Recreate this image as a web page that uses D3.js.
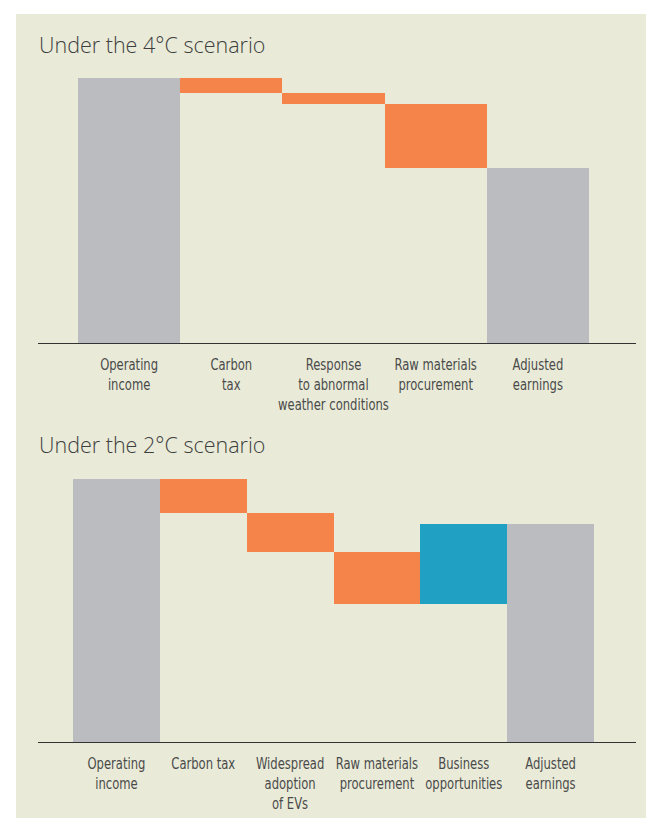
<!DOCTYPE html>
<meta charset="utf-8">
<style>
body { margin: 0; background: #ffffff; }
.title {
  font-family: "Open Sans", "Noto Sans", sans-serif;
  font-weight: 300;
  font-size: 21.5px;
  fill: #3e3e3e;
}
.lbl {
  font-family: "DejaVu Sans Condensed", "DejaVu Sans", sans-serif;
  font-stretch: condensed;
  font-size: 15px;
  fill: #4a4a4a;
}
.axis-line {
  stroke: #333333;
  stroke-width: 1.3px;
  shape-rendering: crispEdges;
}
</style>
<body>
<svg width="646" height="818"></svg>
<script src="https://d3js.org/d3.v7.min.js"></script>
<script>
// 4°C scenario (relative to operating income = 100)
var cats4 = ["Operating\nincome", "Carbon\ntax", "Response\nto abnormal\nweather conditions", "Raw materials\nprocurement", "Adjusted\nearnings"];
var vals4 = [100, -5.7, -4.2, -24, null];

// 2°C scenario
var cats2 = ["Operating\nincome", "Carbon tax", "Widespread\nadoption\nof EVs", "Raw materials\nprocurement", "Business\nopportunities", "Adjusted\nearnings"];
var vals2 = [100, -12.9, -14.8, -19.7, 30.3, null];

var colTotal = "#bbbcc0", colNeg = "#f4844a", colPos = "#20a1c3";

var svg = d3.select("svg");

svg.append("rect")
    .attr("x", 16).attr("y", 14)
    .attr("width", 630).attr("height", 804)
    .attr("fill", "#e9ebd8");

function steps(vals) {
  var run = 0, out = [];
  vals.forEach(function(v, i) {
    if (i === 0) { out.push({y0: 0, y1: v, kind: "total"}); run = v; }
    else if (v === null) { out.push({y0: 0, y1: run, kind: "total"}); }
    else { out.push({y0: run, y1: run + v, kind: v < 0 ? "neg" : "pos"}); run += v; }
  });
  return out;
}

function waterfall(opts) {
  var data = steps(opts.vals);
  var x = d3.scaleBand().domain(d3.range(opts.cats.length)).range([opts.x0, opts.x1]).padding(0);
  var y = d3.scaleLinear().domain([0, 100]).range([opts.base, opts.top]);

  svg.append("text").attr("class", "title")
      .attr("x", 39).attr("y", opts.titleY)
      .text(opts.title);

  svg.append("g").selectAll("rect")
      .data(data)
    .enter().append("rect")
      .attr("x", function(d, i) { return x(i); })
      .attr("width", x.bandwidth())
      .attr("y", function(d) { return y(Math.max(d.y0, d.y1)); })
      .attr("height", function(d) { return Math.abs(y(d.y0) - y(d.y1)); })
      .attr("fill", function(d) { return d.kind === "total" ? colTotal : d.kind === "neg" ? colNeg : colPos; })
      .attr("shape-rendering", "crispEdges");

  svg.append("line").attr("class", "axis-line")
      .attr("x1", 38).attr("x2", 636)
      .attr("y1", opts.base + 0.5).attr("y2", opts.base + 0.5);

  // labels, squeezed horizontally to mimic the condensed face
  var lg = svg.append("g").selectAll("text")
      .data(opts.cats)
    .enter().append("text")
      .attr("class", "lbl")
      .attr("text-anchor", "middle")
      .attr("transform", function(d, i) {
        return "translate(" + (x(i) + x.bandwidth() / 2) + "," + (opts.base + 27) + ") scale(0.86,1)";
      });
  lg.selectAll("tspan")
      .data(function(d) { return d.split("\n"); })
    .enter().append("tspan")
      .attr("x", 0)
      .attr("dy", function(d, i) { return i === 0 ? 0 : 20; })
      .text(function(d) { return d; });
}

waterfall({cats: cats4, vals: vals4, title: "Under the 4°C scenario", titleY: 53,
           x0: 78, x1: 589, top: 78, base: 343});
waterfall({cats: cats2, vals: vals2, title: "Under the 2°C scenario", titleY: 453,
           x0: 73, x1: 594, top: 479, base: 742});
</script>
</body>
